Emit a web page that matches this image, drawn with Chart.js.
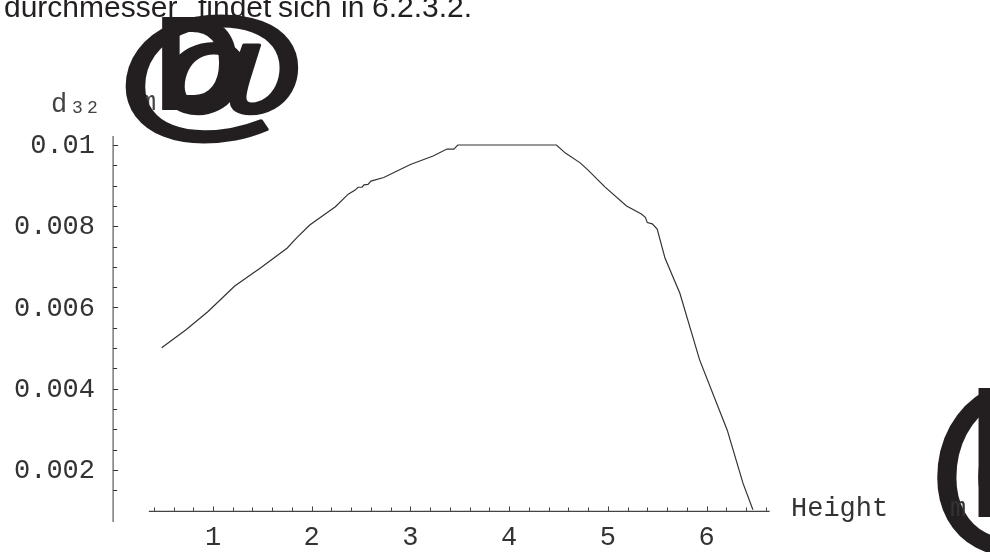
<!DOCTYPE html>
<html>
<head>
<meta charset="utf-8">
<style>
  html, body { margin: 0; padding: 0; background: #ffffff; }
  #wrap { width: 990px; height: 552px; }
</style>
<script src="https://cdn.jsdelivr.net/npm/chart.js@4/dist/chart.umd.min.js"></script>
</head>
<body>
<div id="wrap"><canvas id="c" width="990" height="552"></canvas></div>
<script>
// Sauter mean diameter d32 [m] over column height [m]
const heights = [0.48, 0.73, 0.95, 1.22, 1.48, 1.75, 1.85, 1.98, 2.24, 2.37, 2.44, 2.47, 2.51, 2.53,
  2.57, 2.60, 2.73, 3.00, 3.23, 3.37, 3.44, 3.48, 4.48, 4.57, 4.72, 4.80, 4.97, 5.19, 5.34, 5.38,
  5.40, 5.45, 5.50, 5.58, 5.73, 5.84, 5.93, 6.21, 6.37, 6.47];
const d32 = [0.00501, 0.00546, 0.00590, 0.00653, 0.00697, 0.00746, 0.00772, 0.00803, 0.00848,
  0.00879, 0.00889, 0.00896, 0.00896, 0.00902, 0.00903, 0.00911, 0.00920, 0.00952, 0.00973,
  0.00990, 0.00990, 0.01000, 0.01000, 0.00980, 0.00956, 0.00938, 0.00897, 0.00850, 0.00830,
  0.00822, 0.00809, 0.00806, 0.00793, 0.00721, 0.00635, 0.00545, 0.00471, 0.00298, 0.00167,
  0.00102];

const xTickValues = [1, 2, 3, 4, 5, 6];
const xTickLabels = ['1', '2', '3', '4', '5', '6'];
const yTickValues = [0.002, 0.004, 0.006, 0.008, 0.01];
const yTickLabels = ['0.002', '0.004', '0.006', '0.008', '0.01'];

const xAxisLabel = 'Height';
const yAxisLabel = 'd';
const yAxisSub = ['3', '2'];
const unitText = 'm';
const bracketOpen = '@';
const bracketClose = 'D';
const captionWords = ['durchmesser', 'findet', 'sich', 'in', '6.2.3.2.'];

const points = heights.map((h, i) => ({ x: h, y: d32[i] }));

const MONO = '"Liberation Mono", "DejaVu Sans Mono", monospace';
const SANS = '"Liberation Sans", Arial, sans-serif';

// draw a heavy glyph, optionally stretched horizontally and thickened
function heavyGlyph(ctx, ch, font, x, y, sx, extra, align) {
  ctx.save();
  ctx.font = font;
  ctx.translate(x, y);
  ctx.scale(sx, 1);
  ctx.textAlign = align;
  ctx.textBaseline = 'alphabetic';
  ctx.fillText(ch, 0, 0);
  if (extra > 0) {
    ctx.lineWidth = extra;
    ctx.lineJoin = 'round';
    ctx.strokeText(ch, 0, 0);
  }
  ctx.restore();
}

// Axes drawn in the style of a classic math plot: crossing axes, inward ticks
const mathAxes = {
  id: 'mathAxes',
  beforeDatasetsDraw(chart) {
    const ctx = chart.ctx;
    const xs = chart.scales.x, ys = chart.scales.y;
    const axisY = ys.getPixelForValue(0.00098);
    const axisX = xs.getPixelForValue(-0.012);
    ctx.save();

    // vertical axis
    ctx.strokeStyle = '#7a7a7a';
    ctx.lineWidth = 1.5;
    ctx.beginPath();
    ctx.moveTo(axisX, ys.getPixelForValue(0.01022));
    ctx.lineTo(axisX, ys.getPixelForValue(0.00072));
    ctx.stroke();

    ctx.strokeStyle = '#333';
    ctx.lineWidth = 1;
    for (let k = 3; k <= 20; k++) {
      const v = k * 0.0005;
      const py = Math.round(ys.getPixelForValue(v)) + 0.5;
      const major = k % 4 === 0;
      ctx.beginPath();
      ctx.moveTo(axisX, py);
      ctx.lineTo(axisX + (major ? 5 : 4), py);
      ctx.stroke();
    }

    // horizontal axis
    ctx.strokeStyle = '#444';
    ctx.lineWidth = 1.2;
    ctx.beginPath();
    ctx.moveTo(xs.getPixelForValue(0.35), axisY);
    ctx.lineTo(xs.getPixelForValue(6.64), axisY);
    ctx.stroke();
    ctx.lineWidth = 1;
    for (let k = 2; k <= 33; k++) {
      const v = k * 0.2;
      const px = Math.round(xs.getPixelForValue(v)) + 0.5;
      const major = k % 5 === 0;
      ctx.beginPath();
      ctx.moveTo(px, axisY);
      ctx.lineTo(px, axisY - (major ? 5 : 4));
      ctx.stroke();
    }

    // tick labels
    ctx.fillStyle = '#333';
    ctx.font = '27px ' + MONO;
    ctx.textAlign = 'right';
    ctx.textBaseline = 'middle';
    yTickValues.forEach((v, i) => {
      ctx.fillText(yTickLabels[i], 95, ys.getPixelForValue(v) + 1);
    });
    ctx.textAlign = 'center';
    xTickValues.forEach((v, i) => {
      ctx.fillText(xTickLabels[i], xs.getPixelForValue(v), 538);
    });

    // axis titles
    ctx.textAlign = 'left';
    ctx.textBaseline = 'alphabetic';
    ctx.fillText(xAxisLabel, 791, 516);
    ctx.fillStyle = '#444';
    ctx.fillText(yAxisLabel, 51, 112);
    ctx.font = '18px ' + MONO;
    ctx.fillText(yAxisSub[0], 72, 113);
    ctx.fillText(yAxisSub[1], 87, 113);
    ctx.font = '27px ' + MONO;
    ctx.fillText(unitText, 140, 110);
    ctx.restore();
  },
  afterDraw(chart) {
    const ctx = chart.ctx;
    ctx.save();
    // running text line above the figure
    ctx.fillStyle = '#231f20';
    ctx.strokeStyle = '#231f20';
    ctx.font = '30px ' + SANS;
    ctx.textAlign = 'left';
    ctx.textBaseline = 'alphabetic';
    const wordX = [4, 198, 278, 341, 372];
    captionWords.forEach((w, i) => ctx.fillText(w, wordX[i], 17));

    // oversized bracket glyphs around the units
    heavyGlyph(ctx, bracketOpen, 'bold 144px ' + SANS, 212, 119, 1.36, 3, 'center');
    heavyGlyph(ctx, bracketClose, 'bold 135px ' + SANS, 154, 110, 0.9, 0, 'left');

    heavyGlyph(ctx, bracketOpen, 'bold 205px ' + SANS, 1027, 524, 1.0, 3, 'center');
    heavyGlyph(ctx, bracketClose, 'bold 187px ' + SANS, 966, 517, 1.0, 0, 'left');

    // unit letter peeking out of the right bracket
    ctx.fillStyle = '#333';
    ctx.font = '27px ' + MONO;
    ctx.fillText(unitText, 950, 516);
    ctx.restore();
  }
};

new Chart(document.getElementById('c'), {
  type: 'scatter',
  data: {
    datasets: [{
      data: points,
      showLine: true,
      borderColor: '#333',
      borderWidth: 1.2,
      pointRadius: 0,
      tension: 0,
      fill: false
    }]
  },
  options: {
    responsive: false,
    animation: false,
    layout: { padding: 0 },
    plugins: { legend: { display: false }, tooltip: { enabled: false } },
    scales: {
      x: { type: 'linear', min: -1.158, max: 8.872, display: false },
      y: { type: 'linear', min: -0.0000185, max: 0.013569, display: false }
    }
  },
  plugins: [mathAxes]
});
</script>
</body>
</html>
